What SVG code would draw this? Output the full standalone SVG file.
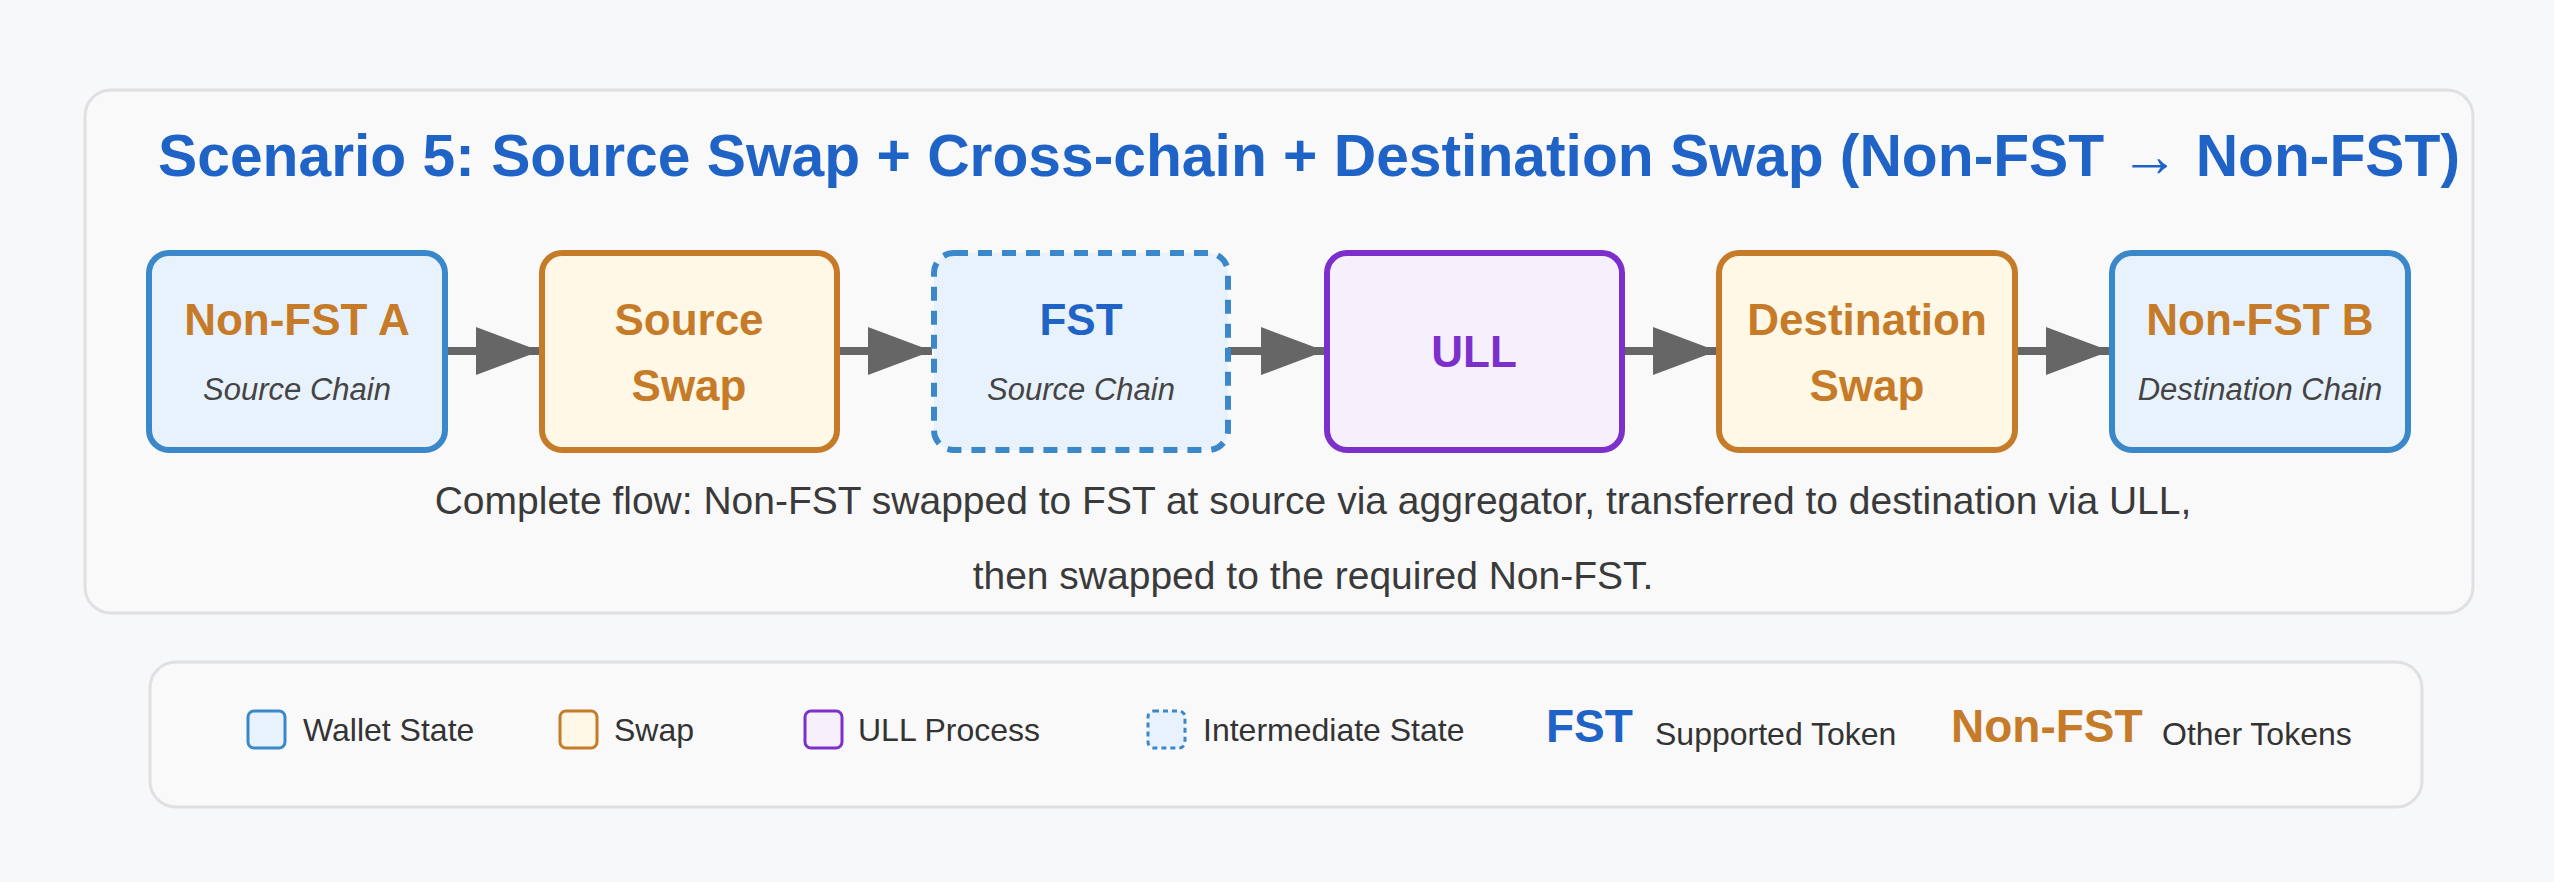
<svg xmlns="http://www.w3.org/2000/svg" width="2554" height="882" viewBox="0 0 2554 882">
<defs>
<style>
.panel{fill:#f9f9fa;stroke:#e0e0e2;stroke-width:3}
.w{fill:#e8f2fd;stroke:#3a87c9;stroke-width:6}
.s{fill:#fff8e7;stroke:#c67b29;stroke-width:6}
.u{fill:#f6f0fd;stroke:#7c2fca;stroke-width:6}
.i{fill:#e8f2fd;stroke:#3a87c9;stroke-width:6;stroke-dasharray:14 10}
.t{font-family:"Liberation Sans",Arial,sans-serif;font-weight:bold;font-size:44px;text-anchor:middle}
.o{fill:#c67b29}.b{fill:#1f63c6}.p{fill:#7c2fca}
.sub{font-family:"Liberation Sans",Arial,sans-serif;font-style:italic;font-size:31px;fill:#444;text-anchor:middle}
.cap{font-family:"Liberation Sans",Arial,sans-serif;font-size:39px;fill:#3a3a3a;text-anchor:middle}
.lg{font-family:"Liberation Sans",Arial,sans-serif;font-size:32px;fill:#333}
.lb{font-family:"Liberation Sans",Arial,sans-serif;font-weight:bold;font-size:46px}
.c{stroke:#666;stroke-width:8;fill:none;marker-end:url(#ah)}
</style>
<marker id="ah" markerWidth="8" markerHeight="6" refX="8" refY="3" orient="auto" markerUnits="strokeWidth"><path d="M0,0L8,3L0,6z" fill="#666"/></marker>
</defs>
<rect width="2554" height="882" fill="#f7f8fa"/>
<rect class="panel" x="85" y="90" width="2388" height="523" rx="26"/>
<text x="158" y="176" font-family="Liberation Sans,Arial,sans-serif" font-weight="bold" font-size="60" fill="#1f63c6" textLength="2302" lengthAdjust="spacingAndGlyphs">Scenario 5: Source Swap + Cross-chain + Destination Swap (Non-FST → Non-FST)</text>
<g id="connectors">
<line class="c" x1="445" y1="351" x2="540" y2="351"/>
<line class="c" x1="837" y1="351" x2="932" y2="351"/>
<line class="c" x1="1228" y1="351" x2="1325" y2="351"/>
<line class="c" x1="1622" y1="351" x2="1717" y2="351"/>
<line class="c" x1="2015" y1="351" x2="2110" y2="351"/>
</g>
<g id="n1"><rect class="w" x="149" y="253" width="296" height="197" rx="20"/><text class="t o" x="297" y="335">Non-FST A</text><text class="sub" x="297" y="400">Source Chain</text></g>
<g id="n2"><rect class="s" x="542" y="253" width="295" height="197" rx="20"/><text class="t o" x="689" y="335">Source</text><text class="t o" x="689" y="401">Swap</text></g>
<g id="n3"><rect class="i" x="934" y="253" width="294" height="197" rx="20"/><text class="t b" x="1081" y="335">FST</text><text class="sub" x="1081" y="400">Source Chain</text></g>
<g id="n4"><rect class="u" x="1327" y="253" width="295" height="197" rx="20"/><text class="t p" x="1474" y="367">ULL</text></g>
<g id="n5"><rect class="s" x="1719" y="253" width="296" height="197" rx="20"/><text class="t o" x="1867" y="335">Destination</text><text class="t o" x="1867" y="401">Swap</text></g>
<g id="n6"><rect class="w" x="2112" y="253" width="296" height="197" rx="20"/><text class="t o" x="2260" y="335">Non-FST B</text><text class="sub" x="2260" y="400">Destination Chain</text></g>
<text class="cap" x="1313" y="514">Complete flow: Non-FST swapped to FST at source via aggregator, transferred to destination via ULL,</text>
<text class="cap" x="1313" y="589">then swapped to the required Non-FST.</text>
<g id="legend">
<rect class="panel" x="150" y="662" width="2272" height="145" rx="26"/>
<rect x="248" y="711" width="37" height="37" rx="6" fill="#e8f2fd" stroke="#3a87c9" stroke-width="3"/>
<text class="lg" x="303" y="741">Wallet State</text>
<rect x="560" y="711" width="37" height="37" rx="6" fill="#fff8e7" stroke="#c67b29" stroke-width="3"/>
<text class="lg" x="614" y="741">Swap</text>
<rect x="805" y="711" width="37" height="37" rx="6" fill="#f6f0fd" stroke="#7c2fca" stroke-width="3"/>
<text class="lg" x="858" y="741">ULL Process</text>
<rect x="1148" y="711" width="37" height="37" rx="6" fill="#e8f2fd" stroke="#3a87c9" stroke-width="3" stroke-dasharray="5 4"/>
<text class="lg" x="1203" y="741">Intermediate State</text>
<text class="lb b" x="1546" y="742">FST</text>
<text class="lg" x="1655" y="745">Supported Token</text>
<text class="lb o" x="1951" y="742">Non-FST</text>
<text class="lg" x="2162" y="745">Other Tokens</text>
</g>
</svg>
